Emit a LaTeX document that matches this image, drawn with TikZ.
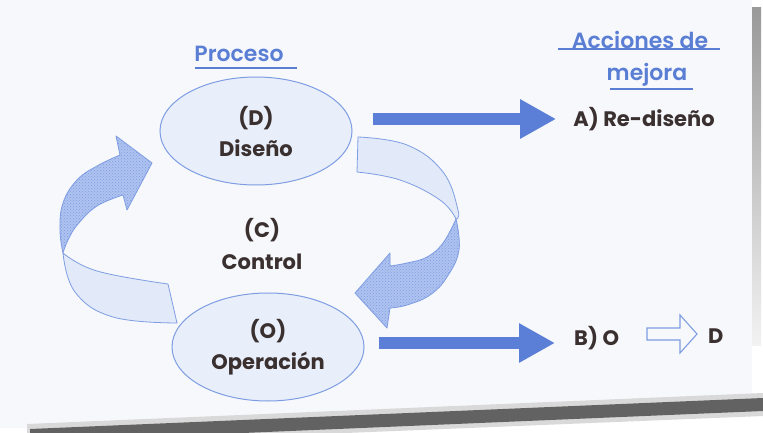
\documentclass[tikz,border=0pt]{standalone}
\usepackage{fontspec}
\setmainfont{Poppins}[UprightFont=* SemiBold, BoldFont=* Bold]
\usetikzlibrary{shapes.geometric, arrows.meta, patterns, calc}
\definecolor{txt}{HTML}{3B3030}
\definecolor{ttl}{HTML}{5A7ED4}
\definecolor{arr}{HTML}{5B7FD6}
\definecolor{edge}{HTML}{7E9DE2}
\definecolor{ellfill}{HTML}{E9EFFA}
\definecolor{lite}{HTML}{E2E9F8}
\definecolor{darkb}{HTML}{AFC3F0}
\definecolor{dotc}{HTML}{7F9CE2}
\definecolor{page}{HTML}{F6F8FC}
\begin{document}
\begin{tikzpicture}[x=1pt,y=-1pt,
  stage/.style={ellipse, draw=edge, fill=ellfill, line width=1pt,
    minimum width=192pt, minimum height=108pt, inner sep=0pt,
    align=center, text=txt, font=\fontsize{21}{31}\selectfont\bfseries},
  lbl/.style={text=txt, font=\fontsize{21}{32}\selectfont\bfseries, inner sep=0pt, align=center},
  ttlnode/.style={text=ttl, font=\fontsize{22}{30}\selectfont, inner sep=0pt},
  uline/.style={draw=ttl, line width=1.3pt},
  bigarrow/.style={draw=arr, line width=12pt, -{Triangle[length=36pt,width=37pt]}},
  ribbon/.style={draw=edge, line width=0.8pt, line join=round},
  litepart/.style={ribbon, fill=lite},
  darkpart/.style={ribbon, fill=darkb, postaction={pattern=crosshatch dots, pattern color=dotc}},
  hollowarrow/.style={draw=edge, line width=1.1pt, fill=page, line join=miter}
]
\useasboundingbox (0,0) rectangle (763,433);
% page and scan edges
\fill[white] (0,0) rectangle (763,433);
\fill[page] (0,0) -- (752,0) -- (752,398) -- (27,428) -- (0,428) -- cycle;
\fill[gray!30] (27,424) -- (763,393) -- (763,416) -- (27,446) -- cycle;
\fill[gray!55!black!85] (30,429) -- (763,398) -- (763,411) -- (30,442) -- cycle;
\shade[top color=gray!80, bottom color=gray!10] (752,8) rectangle (761,345);

% titles
\node[ttlnode] (P) at (239,54) {Proceso};
\draw[uline] ($(P.center)+(-44,14)$) -- ($(P.center)+(58,14)$);
\node[ttlnode] (Acc) at (640,40) {Acciones de};
\draw[uline] ($(Acc.center)+(-82,9)$) -- ($(Acc.center)+(80,9)$);
\node[ttlnode] (Mej) at (647,75) {mejora};
\draw[uline] ($(Mej.center)+(-37,14)$) -- ($(Mej.center)+(46,14)$);

% stages
\node[stage] (D) at (256,131) {(D)\\Diseño};
\node[stage] (O) at (268,347) {(O)\\Operación};
\node[lbl] (C) at (262,244) {(C)\\Control};

% actions
\node[lbl] (A) at (644,119) {A) Re-diseño};
\node[lbl, anchor=west] (Bo) at (574,338) {B) O};
\node[lbl, anchor=west] (Dd) at (708,336) {D};

% straight arrows
\draw[bigarrow, shorten <=20pt, shorten >=17pt] (D.east |- A.west) -- (A.west);
\draw[bigarrow, shorten <=14pt, shorten >=19pt] ($(O.east |- Bo.west)+(0,5)$) -- ($(Bo.west)+(0,5)$);

% hollow arrow O => D
\begin{scope}[shift={($(Dd.west)+(-36,-2)$)}]
\draw[hollowarrow] (-25,-6) -- (8,-6) -- (8,-19) -- (25,0) -- (8,19) -- (8,6) -- (-25,6) -- cycle;
\end{scope}

% left curved arrow (Operacion -> Diseno)
\draw[litepart] (168,284) -- (177,323)
  -- plot[smooth, tension=0.7] coordinates {(177,323) (113,317) (75,292) (63,253)}
  -- plot[smooth, tension=0.7] coordinates {(63,253) (97,271) (168,284)} -- cycle;
\draw[darkpart] (63,253)
  -- plot[smooth, tension=0.7] coordinates {(63,253) (60,230) (63,203) (77,180) (97,166) (120,155)}
  -- (116,136) -- (152,163) -- (127,210) -- (123,195)
  -- plot[smooth, tension=0.7] coordinates {(123,195) (97,206) (78,224) (68,240) (63,253)} -- cycle;

% right curved arrow (Diseno -> Operacion)
\draw[litepart] (358,137)
  -- plot[smooth, tension=0.7] coordinates {(358,137) (407,145) (443,172) (458,210) (456,219)}
  -- plot[smooth, tension=0.7] coordinates {(456,219) (440,200) (400,180) (357,172)} -- cycle;
\draw[darkpart] (456,219)
  -- plot[smooth, tension=0.7] coordinates {(456,219) (459,250) (447,277) (430,295) (407,305) (390,308)}
  -- (387,328) -- (355,293) -- (390,253) -- (390,266)
  -- plot[smooth, tension=0.7] coordinates {(390,266) (407,263) (427,257) (443,243) (456,219)} -- cycle;
\end{tikzpicture}
\end{document}
